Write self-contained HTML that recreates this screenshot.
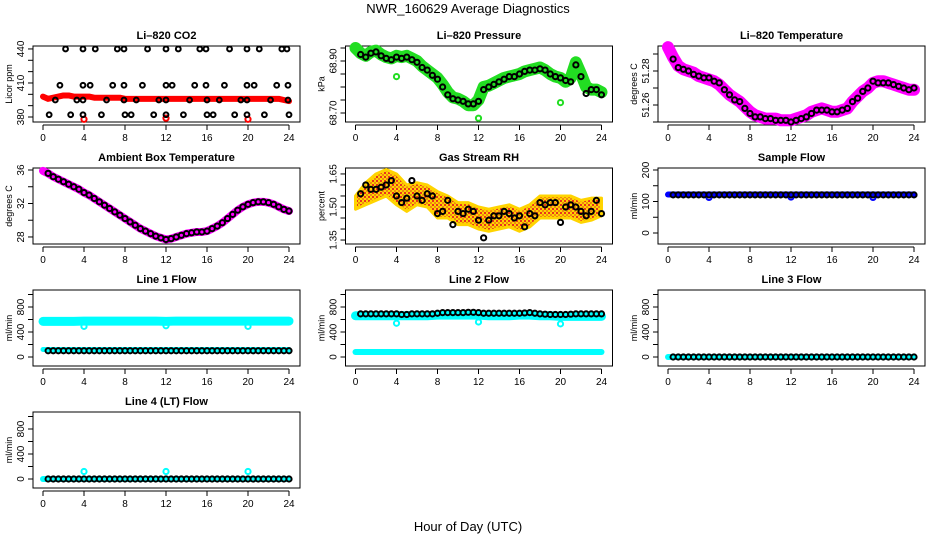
<!DOCTYPE html>
<html><head><meta charset="utf-8"><style>
html,body{margin:0;padding:0;background:#fff;}
svg text{font-family:"Liberation Sans",sans-serif;}
</style></head><body>
<svg id="fig" width="936" height="540" viewBox="0 0 936 540" xmlns="http://www.w3.org/2000/svg">
<defs>
<pattern id="rhpat" width="4" height="4" patternUnits="userSpaceOnUse"><rect width="4" height="4" fill="#ffd400"/><rect x="0" y="0" width="2" height="2" fill="#e8341c"/><rect x="2" y="2" width="2" height="2" fill="#f08a10"/></pattern>
</defs>
<rect width="936" height="540" fill="#fff"/>
<text x="468" y="13" text-anchor="middle" font-size="13">NWR_160629  Average Diagnostics</text>
<text x="468" y="531" text-anchor="middle" font-size="13">Hour of Day (UTC)</text>
</svg>
<script>
// ---- data ----
const bandHours = [0,0.5,1,1.5,2,2.5,3,3.5,4,4.5,5,5.5,6,6.5,7,7.5,8,8.5,9,9.5,10,10.5,11,11.5,12,12.5,13,13.5,14,14.5,15,15.5,16,16.5,17,17.5,18,18.5,19,19.5,20,20.5,21,21.5,22,22.5,23,23.5,24];
const meanHours = [0.5,1,1.5,2,2.5,3,3.5,4,4.5,5,5.5,6,6.5,7,7.5,8,8.5,9,9.5,10,10.5,11,11.5,12,12.5,13,13.5,14,14.5,15,15.5,16,16.5,17,17.5,18,18.5,19,19.5,20,20.5,21,21.5,22,22.5,23,23.5,24];
const hourly = [0,1,2,3,4,5,6,7,8,9,10,11,12,13,14,15,16,17,18,19,20,21,22,23,24];
const outlierHours = [4,12,20];

const co2Band = [398,396,397,398,399,399,398,398,398,398,397,397,397,397,397,397,396,396,396,396,396,396,396,396,396,396,396,396,396,396,396,396,396,396,396,396,396,396,396,396,396,396,396,396,396,396,396,395,394];
const co2Outliers = [378,379,378];
const co2MeanX = [2.2,3.9,5.1,7.25,7.9,10.2,12.0,13.2,15.3,15.9,18.2,19.9,21.1,23.3,23.8, 1.65,3.9,4.6,6.8,7.9,9.7,12.0,12.6,14.8,15.9,17.7,19.9,20.6,22.8,23.9, 1.2,3.3,3.9,6.2,7.9,9.1,11.3,12.0,14.3,16.0,17.2,19.3,19.9,22.2,23.9, 0.6,2.7,3.9,5.7,8.0,8.6,10.8,12.0,13.7,16.0,16.6,18.7,19.9,21.6,24.0];
const co2MeanY = [440,440,440,440,440,440,440,440,440,440,440,440,440,440,440, 408,408,408,408,408,408,408,408,408,408,408,408,408,408,408, 395,395,395,395,395,395,395,395,395,395,395,395,395,395,395, 382,382,382,382,382,382,382,382,382,382,382,382,382,382,382];

const presBand = [68.95,68.93,68.92,68.935,68.94,68.925,68.915,68.91,68.92,68.915,68.92,68.91,68.90,68.88,68.865,68.85,68.835,68.81,68.78,68.76,68.755,68.745,68.73,68.73,68.75,68.80,68.805,68.815,68.825,68.835,68.84,68.845,68.85,68.86,68.865,68.87,68.875,68.865,68.85,68.84,68.835,68.82,68.835,68.895,68.85,68.80,68.79,68.79,68.78];
const presOutliers = [68.84,68.68,68.74];
const presMean = [68.925,68.915,68.93,68.935,68.92,68.91,68.905,68.915,68.91,68.915,68.905,68.895,68.875,68.865,68.845,68.83,68.80,68.77,68.755,68.75,68.745,68.735,68.735,68.745,68.79,68.80,68.81,68.82,68.83,68.84,68.84,68.85,68.86,68.865,68.865,68.87,68.865,68.85,68.84,68.835,68.825,68.82,68.885,68.84,68.775,68.79,68.79,68.77];

const tempBand = [51.294,51.288,51.283,51.281,51.28,51.279,51.277,51.276,51.275,51.274,51.272,51.269,51.266,51.264,51.262,51.259,51.256,51.254,51.253,51.252,51.252,51.252,51.251,51.251,51.251,51.252,51.253,51.254,51.256,51.257,51.258,51.257,51.256,51.256,51.257,51.258,51.262,51.265,51.268,51.270,51.273,51.274,51.274,51.273,51.272,51.271,51.270,51.269,51.269];
const tempMean = [51.287,51.282,51.281,51.280,51.278,51.277,51.276,51.276,51.274,51.273,51.269,51.266,51.263,51.262,51.258,51.255,51.253,51.253,51.252,51.252,51.251,51.251,51.251,51.250,51.251,51.252,51.253,51.255,51.257,51.257,51.257,51.256,51.256,51.257,51.258,51.262,51.264,51.268,51.270,51.274,51.273,51.273,51.273,51.272,51.271,51.270,51.269,51.270];

const ambBand = [35.9,35.6,35.2,34.9,34.6,34.3,34.0,33.7,33.3,33.0,32.6,32.2,31.8,31.4,31.0,30.6,30.2,29.8,29.4,29.0,28.7,28.4,28.1,27.9,27.7,27.8,28.0,28.2,28.4,28.5,28.6,28.6,28.7,29.0,29.3,29.7,30.2,30.7,31.2,31.6,31.9,32.1,32.2,32.2,32.1,31.9,31.6,31.3,31.1];
const ambMean = [35.6,35.2,34.9,34.6,34.3,34.0,33.7,33.3,33.0,32.6,32.2,31.8,31.4,31.0,30.6,30.2,29.8,29.4,29.0,28.7,28.4,28.1,27.9,27.7,27.8,28.0,28.2,28.4,28.5,28.6,28.6,28.7,29.0,29.3,29.7,30.2,30.7,31.2,31.6,31.9,32.1,32.2,32.2,32.1,31.9,31.6,31.3,31.1];

const rhCenter = [1.52,1.56,1.59,1.61,1.58,1.54,1.56,1.55,1.51,1.50,1.47,1.47,1.45,1.44,1.45,1.46,1.44,1.46,1.50,1.50,1.50,1.50,1.48,1.49,1.50];
const rhSpread = [0.03,0.05,0.06,0.06,0.07,0.06,0.05,0.05,0.06,0.05,0.05,0.05,0.05,0.05,0.05,0.05,0.05,0.05,0.05,0.05,0.05,0.05,0.05,0.05,0.04];
const rhMean = [1.56,1.60,1.58,1.58,1.59,1.60,1.62,1.55,1.52,1.54,1.62,1.55,1.53,1.56,1.55,1.47,1.48,1.53,1.42,1.48,1.47,1.49,1.48,1.44,1.36,1.44,1.46,1.46,1.48,1.47,1.45,1.46,1.41,1.47,1.46,1.52,1.51,1.52,1.52,1.43,1.50,1.51,1.50,1.48,1.46,1.48,1.53,1.47];

const sampleBand = [122,122,122,122,122,122,122,122,122,122,122,122,122,122,122,122,122,122,122,122,122,122,122,122,122];
const sampleOutliers = [113,114,113];
const sampleMean = [121,121,121,121,121,121,121,121,121,121,121,121,121,121,121,121,121,121,121,121,121,121,121,121,121,121,121,121,121,121,121,121,121,121,121,121,121,121,121,121,121,121,121,121,121,121,121,121];

const line1High = [570,570,570,570,575,575,575,575,575,575,575,575,570,575,575,575,575,575,575,575,575,575,575,575,575];
const line1Low = [120,120,120,120,120,120,120,120,120,120,120,120,120,120,120,120,120,120,120,120,120,120,120,120,120];
const line1Outliers = [490,500,490];
const line1Mean = [100,100,100,100,100,100,100,100,100,100,100,100,100,100,100,100,100,100,100,100,100,100,100,100,100,100,100,100,100,100,100,100,100,100,100,100,100,100,100,100,100,100,100,100,100,100,100,100];

const line2High = [660,660,660,660,660,660,660,660,670,670,670,670,670,660,660,660,670,670,660,660,650,650,650,650,650];
const line2Low = [80,80,80,80,80,80,80,80,80,80,80,80,80,80,80,80,80,80,80,80,80,80,80,80,80];
const line2Outliers = [540,560,530];
const line2Mean = [690,690,690,690,690,690,690,690,680,680,690,690,690,690,690,700,710,710,710,710,710,715,715,710,700,700,700,700,700,700,700,700,705,710,700,690,685,680,680,680,680,685,690,690,690,690,690,690];

const line3Band = [0,0,0,0,0,0,0,0,0,0,0,0,0,0,0,0,0,0,0,0,0,0,0,0,0];
const line3Mean = [0,0,0,0,0,0,0,0,0,0,0,0,0,0,0,0,0,0,0,0,0,0,0,0,0,0,0,0,0,0,0,0,0,0,0,0,0,0,0,0,0,0,0,0,0,0,0,0];

const line4Band = [0,0,0,0,0,0,0,0,0,0,0,0,0,0,0,0,0,0,0,0,0,0,0,0,0];
const line4Outliers = [120,120,120];
const line4Mean = [0,0,0,0,0,0,0,0,0,0,0,0,0,0,0,0,0,0,0,0,0,0,0,0,0,0,0,0,0,0,0,0,0,0,0,0,0,0,0,0,0,0,0,0,0,0,0,0];

const xTicks = [0,4,8,12,16,20,24];

// ---- drawing ----
const NS = 'http://www.w3.org/2000/svg';
const svg = document.getElementById('fig');
function mk(tag, attrs, parent){const e=document.createElementNS(NS,tag);for(const k in attrs)e.setAttribute(k,attrs[k]);(parent||svg).appendChild(e);return e;}

function panel(col,row,title,slug,unit,ylim,ticks,labels){
  const g = mk('g',{});
  
  
  const x0 = 43 + 312.5*col, top = 46 + 122*row, bot = top + 76;
  const left = x0 - 10, right = x0 + 257;
  const sx = h => x0 + h*10.25;
  const sy = v => bot - (v - ylim[0])/(ylim[1]-ylim[0])*(bot-top);
  const t = mk('text',{x:(left+right)/2,y:top-7,'text-anchor':'middle','font-size':'11','font-weight':'bold'},g);
  t.textContent = title;
  
  
  const box = mk('rect',{x:left,y:top,width:right-left,height:bot-top,fill:'none',stroke:'#000','stroke-width':1},g);
  
  
  const xa = mk('g',{},g);
  
  
  mk('line',{x1:sx(0),x2:sx(24),y1:bot+3,y2:bot+3,stroke:'#000'},xa);
  xTicks.forEach(h=>{
    mk('line',{x1:sx(h),x2:sx(h),y1:bot+3,y2:bot+8,stroke:'#000'},xa);
    const l = mk('text',{x:sx(h),y:bot+19,'text-anchor':'middle','font-size':'10'},xa);
    l.textContent = h;
  });
  const ya = mk('g',{},g);
  
  
  ticks.forEach(v=>{
    mk('line',{x1:left,x2:left-5,y1:sy(v),y2:sy(v),stroke:'#000'},ya);
  });
  labels.forEach(v=>{
    const l = mk('text',{x:left-9,y:sy(v),'text-anchor':'middle','font-size':'10',transform:`rotate(-90 ${left-9} ${sy(v)})`},ya);
    l.textContent = v;
  });
  const u = mk('text',{x:left-21,y:(top+bot)/2,'text-anchor':'middle','font-size':'9',transform:`rotate(-90 ${left-21} ${(top+bot)/2})`},ya);
  u.textContent = unit;
  
  
  return {g,sx,sy,slug};
}
function band(p,xs,ys,color,w,name){
  const pts = xs.map((h,i)=>p.sx(h)+','+p.sy(ys[i])).join(' ');
  const e = mk('polyline',{points:pts,fill:'none',stroke:color,'stroke-width':w,'stroke-linecap':'round','stroke-linejoin':'round'},p.g);
  
  
}
function dots(p,xs,ys,stroke,fill,r,name){
  const gg = mk('g',{},p.g);
  
  
  xs.forEach((h,i)=>{
    mk('circle',{cx:p.sx(h),cy:p.sy(ys[i]),r:r,fill:fill,stroke:stroke,'stroke-width':2},gg);
  });
}

let p = panel(0,0,'Li\u2013820 CO2','li820-co2','Licor ppm',[375.6,442.6],[380,390,400,410,420,430,440],[380,410,440]);
band(p,bandHours,co2Band,'#ff0000',6,'raw-band');
dots(p,outlierHours,co2Outliers,'#ff0000','none',2.6,'raw-outliers');
dots(p,co2MeanX,co2MeanY,'#000','none',2.4,'mean-points');

p = panel(1,0,'Li\u2013820 Pressure','li820-pressure','kPa',[68.6654,68.9577],[68.70,68.75,68.80,68.85,68.90,68.95],['68.70','68.90']);
band(p,bandHours,presBand,'#22dd22',12,'raw-band');
dots(p,outlierHours,presOutliers,'#22dd22','none',2.6,'raw-outliers');
dots(p,meanHours,presMean,'#000','none',2.6,'mean-points');

p = panel(2,0,'Li\u2013820 Temperature','li820-temperature','degrees C',[51.25,51.2947],[51.25,51.26,51.27,51.28,51.29],['51.26','51.28']);
band(p,bandHours,tempBand,'#ff00ff',12,'raw-band');
dots(p,meanHours,tempMean,'#000','none',2.6,'mean-points');

p = panel(0,1,'Ambient Box Temperature','ambient-box-temperature','degrees C',[27.16,36.24],[28,30,32,34,36],[28,32,36]);
band(p,bandHours,ambBand,'#ff00ff',8,'raw-band');
dots(p,meanHours,ambMean,'#000','#ff00ff',2.6,'mean-points');

p = panel(1,1,'Gas Stream RH','gas-stream-rh','percent',[1.332,1.677],[1.35,1.40,1.45,1.50,1.55,1.60,1.65],['1.35','1.50','1.65']);
{
  const up = hourly.map((h,i)=>p.sx(h)+','+p.sy(rhCenter[i]+rhSpread[i]));
  const dn = hourly.map((h,i)=>p.sx(h)+','+p.sy(rhCenter[i]-rhSpread[i])).reverse();
  const e = mk('polygon',{points:up.concat(dn).join(' '),fill:'url(#rhpat)',stroke:'#ffd400','stroke-width':3,'stroke-linejoin':'round'},p.g);
  
  
}
dots(p,meanHours,rhMean,'#000','none',2.6,'mean-points');

p = panel(2,1,'Sample Flow','sample-flow','ml/min',[-34.9,206.3],[0,50,100,150,200],[0,100,200]);
band(p,hourly,sampleBand,'#0000ff',6,'raw-band');
dots(p,outlierHours,sampleOutliers,'#0000ff','none',2.6,'raw-outliers');
dots(p,meanHours,sampleMean,'#000','#0000ff',2.6,'mean-points');

const flowTicks=[0,200,400,600,800,1000], flowLabels=[0,400,800], flowLim=[-144,1072];
p = panel(0,2,'Line 1 Flow','line-1-flow','ml/min',flowLim,flowTicks,flowLabels);
band(p,hourly,line1High,'#00ffff',9,'raw-band-high');
band(p,hourly,line1Low,'#00ffff',5,'raw-band-low');
dots(p,outlierHours,line1Outliers,'#00ffff','none',2.6,'raw-outliers');
dots(p,meanHours,line1Mean,'#000','#00ffff',2.6,'mean-points');

p = panel(1,2,'Line 2 Flow','line-2-flow','ml/min',flowLim,flowTicks,flowLabels);
band(p,hourly,line2High,'#00ffff',9,'raw-band-high');
band(p,hourly,line2Low,'#00ffff',6,'raw-band-low');
dots(p,outlierHours,line2Outliers,'#00ffff','none',2.6,'raw-outliers');
dots(p,meanHours,line2Mean,'#000','#00ffff',2.6,'mean-points');

p = panel(2,2,'Line 3 Flow','line-3-flow','ml/min',flowLim,flowTicks,flowLabels);
band(p,hourly,line3Band,'#00ffff',6,'raw-band');
dots(p,meanHours,line3Mean,'#000','#00ffff',2.6,'mean-points');

p = panel(0,3,'Line 4 (LT) Flow','line-4-flow','ml/min',flowLim,flowTicks,flowLabels);
band(p,hourly,line4Band,'#00ffff',6,'raw-band');
dots(p,outlierHours,line4Outliers,'#00ffff','none',2.6,'raw-outliers');
dots(p,meanHours,line4Mean,'#000','#00ffff',2.6,'mean-points');
</script>
</body></html>
